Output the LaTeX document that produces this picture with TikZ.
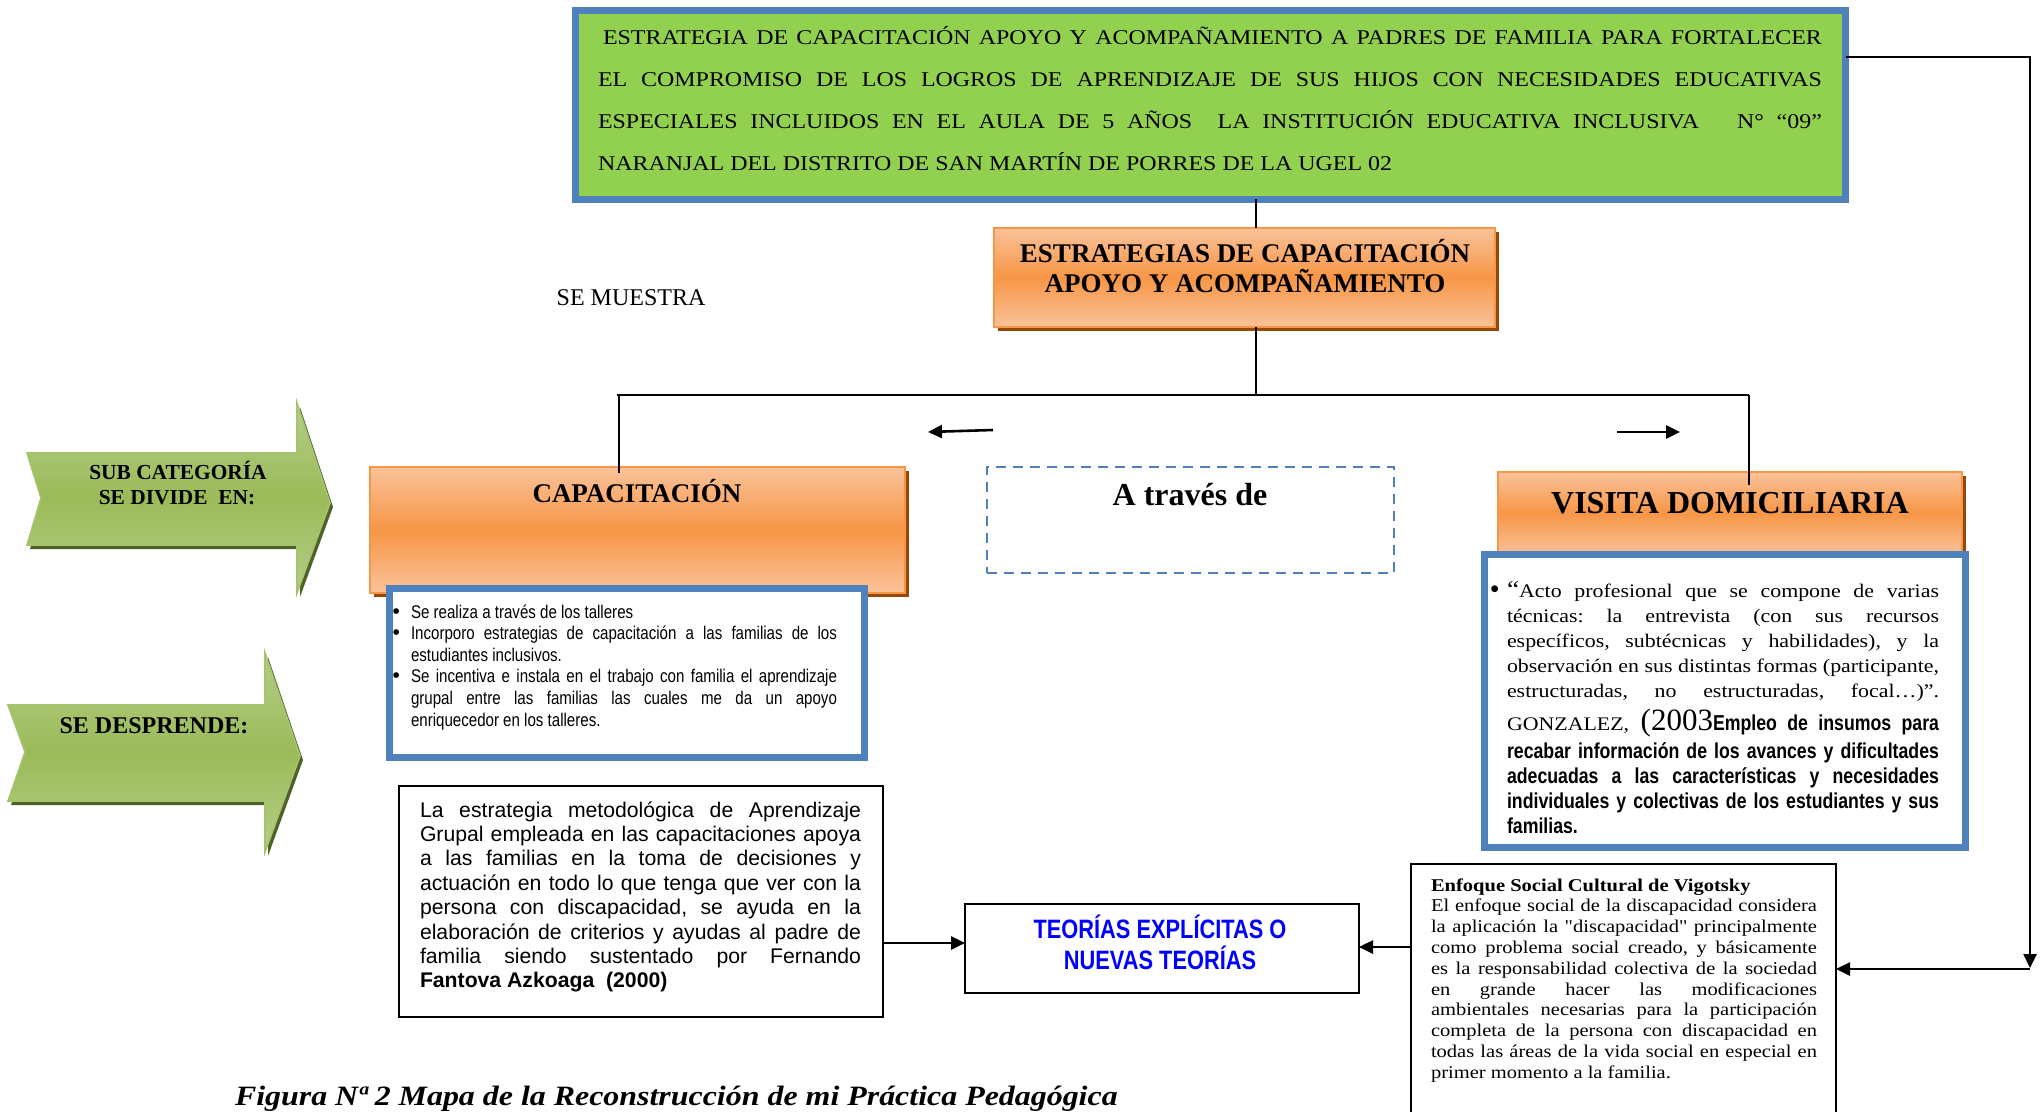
\documentclass[tikz,border=0pt]{standalone}
\usepackage{fontspec}
\setmainfont{Liberation Serif}
\newfontfamily\wserif[FakeStretch=1.14]{Liberation Serif}
\newfontfamily\arialf{Liberation Sans}
\newfontfamily\narrowf[FakeStretch=0.82]{Liberation Sans}
\usetikzlibrary{arrows.meta,shadows}
\definecolor{bluebd}{HTML}{4F81BD}
\definecolor{greenfill}{HTML}{92D050}
\definecolor{orangebd}{HTML}{F79646}
\definecolor{orangelt}{HTML}{FAC29A}
\definecolor{orangedk}{HTML}{984806}
\definecolor{greenarr}{HTML}{9BBB59}
\definecolor{greenlt}{HTML}{B5CD88}
\definecolor{greenedge}{HTML}{A6C46E}
\definecolor{greendk}{HTML}{4F6228}
\definecolor{pureblue}{HTML}{0000FF}
\newcommand{\myJ}[2]{\hbox to #1{#2}}
\newcommand{\myL}[2]{\hbox to #1{#2\hfil}}
\newcommand{\smbul}{\llap{{\arialf\fontsize{10.5}{10}\selectfont •}\hskip5.5pt}}
\newcommand{\bgbul}{\llap{{\arialf\fontsize{12.5}{10}\selectfont •}\hskip4pt}}
\frenchspacing
\begin{document}
\begin{tikzpicture}[x=0.5pt,y=-0.5pt,
  every node/.style={inner sep=0pt,outer sep=0pt},
  goalbox/.style={draw=bluebd,line width=3.5pt,fill=greenfill},
  bluebox/.style={draw=bluebd,line width=3.5pt,fill=white},
  obox/.style={draw=orangebd,line width=1pt,top color=orangelt,bottom color=orangelt,middle color=orangebd,
    general shadow={fill=orangedk,shadow xshift=2pt,shadow yshift=-2pt}},
  dashbox/.style={draw=bluebd,line width=1pt,dash pattern=on 5pt off 3.5pt},
  plainbox/.style={draw=black,line width=1pt,fill=white},
  treeline/.style={draw=black,line width=1pt},
  conn/.style={draw=black,line width=1.3pt,-{Triangle[length=7pt,width=6.5pt]}},
  garrow/.style={draw=greenedge,line width=0.8pt,top color=greenlt,bottom color=greenlt,middle color=greenarr},
  gshadow/.style={fill=greendk},
  headb/.style={font=\bfseries\fontsize{13.5}{15}\selectfont},
]
\useasboundingbox (0,0) rectangle (2044,1112);
\clip (0,0) rectangle (2044,1112);
\fill[white] (0,0) rectangle (2044,1112);

% ---------- green arrows on the left
\fill[gshadow,shift={(3,4)}] (27,453) -- (297,453) -- (297,403) -- (330,503) -- (297,593) -- (297,545) -- (27,545) -- (41,498) -- cycle;
\path[garrow] (27,453) -- (297,453) -- (297,403) -- (330,503) -- (297,593) -- (297,545) -- (27,545) -- (41,498) -- cycle;
\fill[gshadow,shift={(3,4)}] (8,705) -- (265,705) -- (265,653) -- (300,756) -- (265,852) -- (265,801) -- (8,801) -- (25,752) -- cycle;
\path[garrow] (8,705) -- (265,705) -- (265,653) -- (300,756) -- (265,852) -- (265,801) -- (8,801) -- (25,752) -- cycle;
\node[anchor=base,font=\bfseries\fontsize{10.7}{12}\selectfont] (sub1) at (178,479) {SUB CATEGORÍA};
\node[anchor=base,font=\bfseries\fontsize{10.7}{12}\selectfont] (sub2) at (177,504) {SE DIVIDE\ \ EN:};
\node[anchor=base,font=\bfseries\fontsize{12}{13}\selectfont] (desp) at (154,733) {SE DESPRENDE:};

% ---------- boxes
\node[goalbox,minimum width=635pt,minimum height=94.5pt] (goal) at (1210.5,105) {};
\node[obox,minimum width=250.5pt,minimum height=49.5pt] (strat) at (1244.5,277.5) {};
\node[obox,minimum width=267.5pt,minimum height=63pt] (capa) at (637.5,530) {};
\node[obox,minimum width=232pt,minimum height=41pt] (visita) at (1730,513) {};
\node[dashbox,minimum width=203.5pt,minimum height=53pt] (atraves) at (1190.5,520) {};
\node[bluebox,minimum width=237.5pt,minimum height=84.5pt] (capabox) at (627,673) {};
\node[bluebox,minimum width=240.5pt,minimum height=146.5pt] (visbox) at (1725,701) {};
\node[plainbox,minimum width=242pt,minimum height=115.5pt] (lbox) at (641,901.5) {};
\node[plainbox,minimum width=197pt,minimum height=44.5pt] (teor) at (1162,948.5) {};
\node[plainbox,minimum width=212.5pt,minimum height=132.5pt] (enf) at (1623.5,996.5) {};

% ---------- connectors
\coordinate (t0) at (1256,395);
\coordinate (tl) at (617,395);
\coordinate (tr) at (1749,395);
\coordinate (tlx) at (619,395);
\draw[treeline] (goal.south -| t0) -- (strat.north -| t0);
\draw[treeline] (strat.south -| t0) -- (t0);
\draw[treeline] (tl) -- (tr);
\draw[treeline] (tlx) -- ([yshift=-3pt]capa.north -| tlx);
\draw[treeline] (tr) -- ([yshift=-6.5pt]visita.north -| tr);

\coordinate (sl1) at (993,430);
\coordinate (sl2) at (928,432);
\coordinate (sr1) at (1617,432);
\coordinate (sr2) at (1680,432);
\draw[conn] (sl1) -- (sl2);
\draw[conn] (sr1) -- (sr2);

\coordinate (r1) at (2030,57);
\coordinate (r2) at (2030,968);
\coordinate (r3) at (2030,969);
\draw[conn] (goal.east |- r1) -- (r1) -- (r2);
\draw[conn] (r3) -- (enf.east |- r3);
\coordinate (a1) at (884,943);
\coordinate (a2) at (1418,947);
\draw[conn] (lbox.east |- a1) -- (teor.west |- a1);
\draw[conn] (enf.west |- a2) -- (teor.east |- a2);

% ---------- texts
\node[anchor=base west] (goaltxt) at (598,45) {\vtop{\wserif\fontsize{10.5}{20.85}\selectfont\lineskiplimit=-100pt
  \myJ{612pt}{\hskip2.5pt ESTRATEGIA DE CAPACITACIÓN APOYO Y ACOMPAÑAMIENTO A PADRES DE FAMILIA PARA FORTALECER}
  \myJ{612pt}{EL COMPROMISO DE LOS LOGROS DE APRENDIZAJE DE SUS HIJOS CON NECESIDADES EDUCATIVAS}
  \myJ{612pt}{ESPECIALES INCLUIDOS EN EL AULA DE 5 AÑOS\ \ LA INSTITUCIÓN EDUCATIVA INCLUSIVA\ \ \ N° “09”}
  \myL{612pt}{NARANJAL DEL DISTRITO DE SAN MARTÍN DE PORRES DE LA UGEL 02}}};

\node[anchor=base,headb] (strat1) at (1245,263) {ESTRATEGIAS DE CAPACITACIÓN};
\node[anchor=base,headb] (strat2) at (1245,293) {APOYO Y ACOMPAÑAMIENTO};
\node[anchor=base,font=\fontsize{12}{13}\selectfont] (muestra) at (631,306) {SE MUESTRA};
\node[anchor=base,headb] (capat) at (637,502) {CAPACITACIÓN};
\node[anchor=base,font=\bfseries\fontsize{16}{18}\selectfont] (atrt) at (1190,505) {A través de};
\node[anchor=base,font=\bfseries\fontsize{16}{18}\selectfont] (vist) at (1730,513) {VISITA DOMICILIARIA};

\node[anchor=base west] (capatxt) at (411,618) {\vtop{\narrowf\fontsize{9.2}{10.8}\selectfont\lineskiplimit=-100pt
  \myL{213pt}{\smbul Se realiza a través de los talleres}
  \myJ{213pt}{\smbul Incorporo estrategias de capacitación a las familias de los}
  \myL{213pt}{estudiantes inclusivos.}
  \myJ{213pt}{\smbul Se incentiva e instala en el trabajo con familia el aprendizaje}
  \myJ{213pt}{grupal entre las familias las cuales me da un apoyo}
  \myL{213pt}{enriquecedor en los talleres.}}};

\node[anchor=base west] (vistxt) at (1507,597) {\vtop{\wserif\fontsize{9.6}{12.5}\selectfont\lineskiplimit=-100pt
  \myJ{216pt}{\bgbul{\fontsize{12}{12}\selectfont“}Acto profesional que se compone de varias}
  \myJ{216pt}{técnicas: la entrevista (con sus recursos}
  \myJ{216pt}{específicos, subtécnicas y habilidades), y la}
  \myJ{216pt}{observación en sus distintas formas (participante,}
  \myJ{216pt}{estructuradas, no estructuradas, focal…)”.}
  \vskip4pt
  \myJ{216pt}{GONZALEZ, {\rmfamily\fontsize{15.5}{16}\selectfont(2003}{\narrowf\bfseries\fontsize{10.8}{12.5}\selectfont Empleo de insumos para}}
  \vskip1.5pt
  \narrowf\bfseries\fontsize{10.8}{12.5}\selectfont
  \myJ{216pt}{recabar información de los avances y dificultades}
  \myJ{216pt}{adecuadas a las características y necesidades}
  \myJ{216pt}{individuales y colectivas de los estudiantes y sus}
  \myL{216pt}{familias.}}};

\node[anchor=base west] (ltxt) at (420,817) {\vtop{\arialf\fontsize{10.6}{12.2}\selectfont\lineskiplimit=-100pt
  \myJ{220.5pt}{La estrategia metodológica de Aprendizaje}
  \myJ{220.5pt}{Grupal empleada en las capacitaciones apoya}
  \myJ{220.5pt}{a las familias en la toma de decisiones y}
  \myJ{220.5pt}{actuación en todo lo que tenga que ver con la}
  \myJ{220.5pt}{persona con discapacidad, se ayuda en la}
  \myJ{220.5pt}{elaboración de criterios y ayudas al padre de}
  \myJ{220.5pt}{familia siendo sustentado por Fernando}
  \myL{220.5pt}{\bfseries Fantova Azkoaga\ \ (2000)}}};

\node[anchor=base,font=\narrowf\bfseries\fontsize{13.3}{15}\selectfont,text=pureblue] (teor1) at (1160,938) {TEORÍAS EXPLÍCITAS O};
\node[anchor=base,font=\narrowf\bfseries\fontsize{13.3}{15}\selectfont,text=pureblue] (teor2) at (1160,969) {NUEVAS TEORÍAS};

\node[anchor=base west] (enftxt) at (1431,891) {\vtop{\wserif\fontsize{9}{10.4}\selectfont\lineskiplimit=-100pt
  \myL{193pt}{\bfseries Enfoque Social Cultural de Vigotsky}
  \myJ{193pt}{El enfoque social de la discapacidad considera}
  \myJ{193pt}{la aplicación la "discapacidad" principalmente}
  \myJ{193pt}{como problema social creado, y básicamente}
  \myJ{193pt}{es la responsabilidad colectiva de la sociedad}
  \myJ{193pt}{en grande hacer las modificaciones}
  \myJ{193pt}{ambientales necesarias para la participación}
  \myJ{193pt}{completa de la persona con discapacidad en}
  \myJ{193pt}{todas las áreas de la vida social en especial en}
  \myL{193pt}{primer momento a la familia.}}};

\node[anchor=base west,font=\wserif\bfseries\itshape\fontsize{14}{16}\selectfont] (caption) at (235,1105) {Figura Nª 2 Mapa de la Reconstrucción de mi Práctica Pedagógica};
\end{tikzpicture}
\end{document}
